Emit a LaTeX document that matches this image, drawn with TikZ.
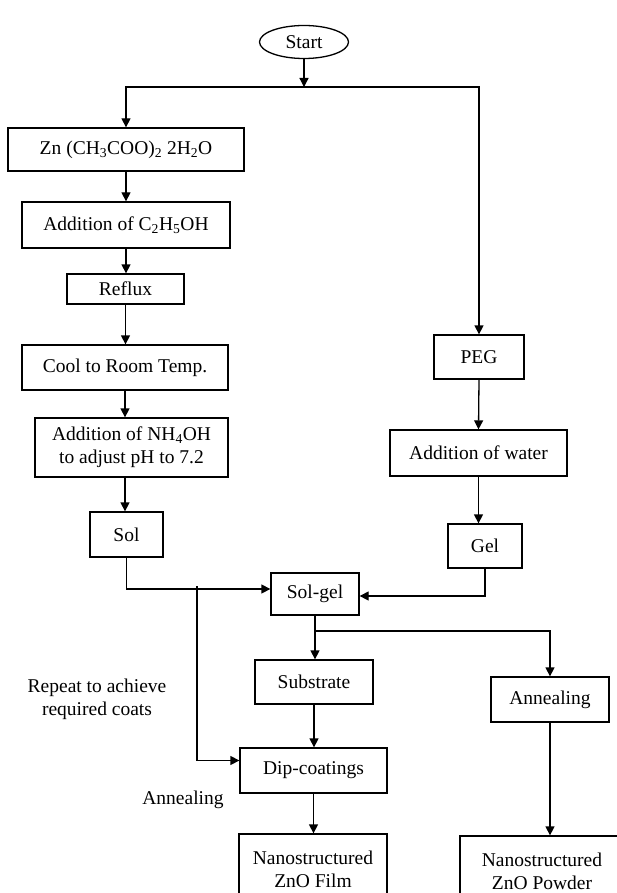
\documentclass[tikz,border=0pt]{standalone}
\usepackage{fontspec}
\setmainfont{Liberation Serif}
\usetikzlibrary{arrows.meta,shapes.geometric,calc}
\begin{document}
\begin{tikzpicture}[x=1pt,y=-1pt,
  font=\fontsize{19.5}{23}\selectfont,
  line width=1.3pt,
  box/.style={draw,rectangle,inner sep=0pt,align=center},
  arr/.style={-{Triangle[length=9pt,width=9pt]}},
  lbl/.style={inner sep=0pt,align=center}]
\useasboundingbox[fill=white] (0,0) rectangle (617,893);
% nodes
\node[draw,ellipse,inner sep=0pt,minimum width=89pt,minimum height=33pt] (start) at (304,42) {Start};
\node[box,minimum width=236pt,minimum height=43pt] (zn) at (126,149.5) {Zn (CH\textsubscript{3}COO)\textsubscript{2} 2H\textsubscript{2}O};
\node[box,minimum width=208pt,minimum height=46pt] (eth) at (126,225) {Addition of C\textsubscript{2}H\textsubscript{5}OH};
\node[box,minimum width=117pt,minimum height=30pt] (reflux) at (125.5,289) {Reflux};
\node[box,minimum width=206pt,minimum height=45pt] (cool) at (125,367.5) {Cool to Room Temp.};
\node[box,minimum width=193pt,minimum height=59pt] (nh4) at (131.5,447.5) {Addition of NH\textsubscript{4}OH\\to adjust pH to 7.2};
\node[box,minimum width=73pt,minimum height=45pt] (sol) at (126.5,534.5) {Sol};
\node[box,minimum width=90pt,minimum height=44pt] (peg) at (479,357) {PEG};
\node[box,minimum width=177pt,minimum height=46pt] (water) at (478.5,453) {Addition of water};
\node[box,minimum width=74pt,minimum height=44pt] (gel) at (485,546) {Gel};
\node[box,minimum width=88pt,minimum height=42pt] (solgel) at (315,594) {Sol-gel};
\node[box,minimum width=118pt,minimum height=44pt] (substrate) at (314,682) {Substrate};
\node[box,minimum width=118pt,minimum height=45pt] (anneal) at (550,699.5) {Annealing};
\node[box,minimum width=147pt,minimum height=45pt] (dip) at (313.5,770.5) {Dip-coatings};
\node[box,minimum width=148pt,minimum height=70pt] (film) at (313,869) {Nanostructured\\ZnO Film};
\node[box,minimum width=164pt,minimum height=70pt] (powder) at (542,871) {Nanostructured\\ZnO Powder};
\node[lbl] (repeat) at (97,699.5) {Repeat to achieve\\required coats};
\node[lbl] (annlbl) at (183,800) {Annealing};
% coordinates
\coordinate (split) at (304,87);
\coordinate (br) at (315,631);
\coordinate (rp) at (197,586);
% connectors
\draw[arr] (start) -- (split);
\draw[arr] (split) -| (zn.north);
\draw[arr] (split) -| (peg.north);
\draw[arr] (zn.south) -- (eth.north);
\draw[arr] (eth.south) -- (eth.south |- reflux.north);
\draw[arr] (reflux.south) -- (reflux.south |- cool.north);
\draw[arr] (cool.south) -- (cool.south |- nh4.north);
\draw[arr] (cool.south |- nh4.south) -- (cool.south |- sol.north);
\draw[arr] (peg.south) -- (water.north);
\draw[arr] (water.south) -- (water.south |- gel.north);
\draw[arr] (sol.south) |- ([yshift=5pt]solgel.west);
\draw[arr] (gel.south) |- ([yshift=-2pt]solgel.east);
\draw[arr] (solgel.south) -- (solgel.south |- substrate.north);
\draw[arr] (br) -| (anneal.north);
\draw[arr] (substrate.south) -- (substrate.south |- dip.north);
\draw[arr] (dip.south) -- (dip.south |- film.north);
\draw[arr] (anneal.south) -- (anneal.south |- powder.north);
\draw[arr] (rp) |- ([yshift=10pt]dip.west);
\end{tikzpicture}
\end{document}
